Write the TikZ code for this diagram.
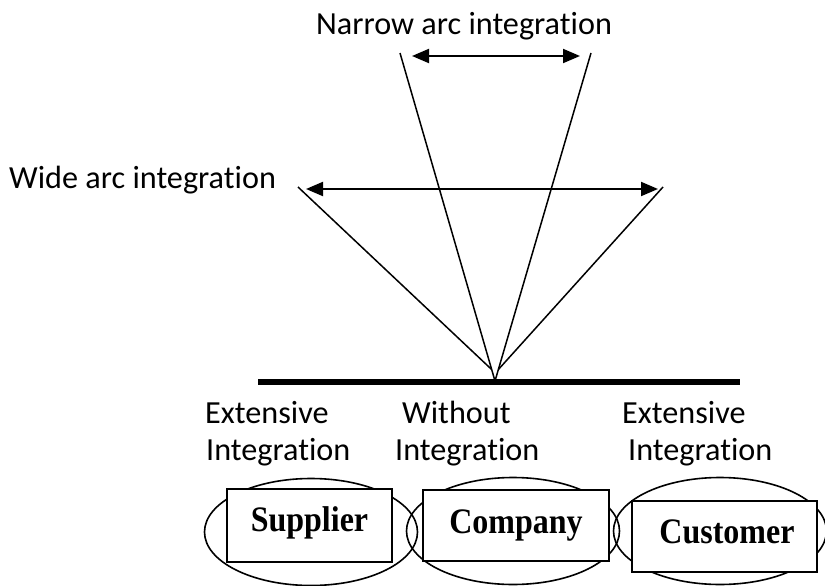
\documentclass[tikz,border=0pt]{standalone}
\usepackage{fontspec}
\setmainfont{Carlito}[Ligatures=NoCommon]
\newfontfamily\stagefont{Liberation Serif}
\usetikzlibrary{arrows.meta,calc,shapes.geometric}
\newcommand{\tallname}[1]{\scalebox{1}[1.12]{#1}}
\begin{document}
\begin{tikzpicture}[x=1pt,y=-1pt,
  lbl/.style={font=\fontsize{32.2}{36}\selectfont, inner sep=0pt, anchor=base west},
  ray/.style={line width=1.5pt},
  span/.style={line width=2pt,
    {Triangle[length=17pt,width=14pt]}-{Triangle[length=17pt,width=14pt]}},
  ring/.style={draw, ellipse, line width=1.6pt, inner sep=0pt,
    minimum width=213pt, minimum height=107pt},
  stagebox/.style={draw, fill=white, rectangle, line width=1.8pt, inner sep=0pt},
  stagename/.style={font=\stagefont\bfseries\fontsize{32}{36}\selectfont,
    inner sep=0pt, anchor=base}]
\useasboundingbox (0,0) rectangle (825,586);
\fill[white] (0,0) rectangle (825,586);

% titles
\node[lbl, anchor=base] (narrow) at (464,35) {Narrow arc integration};
\node[lbl] (wide) at (9,188) {Wide arc integration};

% apex and ray ends
\coordinate (apex) at (495,381);
\coordinate (nL) at (400,53);
\coordinate (nR) at (591,53);
\coordinate (wL) at (298,187);
\coordinate (wR) at (663,187);

% narrow and wide rays
\draw[ray] (nL) -- (apex);
\draw[ray] (nR) -- (apex);
\draw[ray] (wL) -- ($(nL)!0.965!(apex)$);
\draw[ray] (wR) -- ($(nR)!0.965!(apex)$);

% span arrows
\coordinate (naL) at (412,56);
\coordinate (naR) at (580,56);
\coordinate (waL) at (306,189);
\coordinate (waR) at (658,189);
\draw[span] (naL) -- (naR);
\draw[span] (waL) -- (waR);

% base line
\coordinate (bL) at (258,382);
\coordinate (bR) at (740,382);
\draw[line width=6pt] (bL) -- (bR);

% degree of integration labels
\node[lbl] (e1) at (205,423) {Extensive};
\node[lbl] (i1) at (206,460) {Integration};
\node[lbl] (w2) at (402,423) {Without};
\node[lbl] (i2) at (395,460) {Integration};
\node[lbl] (e3) at (622,423) {Extensive};
\node[lbl] (i3) at (628,460) {Integration};

% supply chain stages
\node[ring] (supRing) at (311,532) {};
\node[ring] (comRing) at (513,531) {};
\node[ring] (cusRing) at (720,531) {};

\node[stagebox, minimum width=165pt, minimum height=73pt] (supBox) at (309.5,525.5) {};
\node[stagebox, minimum width=186pt, minimum height=71pt] (comBox) at (516,525.5) {};
\node[stagebox, minimum width=185pt, minimum height=71pt] (cusBox) at (724.5,536.5) {};

\node[stagename] (supName) at (309.5,531) {\tallname{Supplier}};
\node[stagename] (comName) at (516,533) {\tallname{Company}};
\node[stagename] (cusName) at (727,543) {\tallname{Customer}};
\end{tikzpicture}
\end{document}
